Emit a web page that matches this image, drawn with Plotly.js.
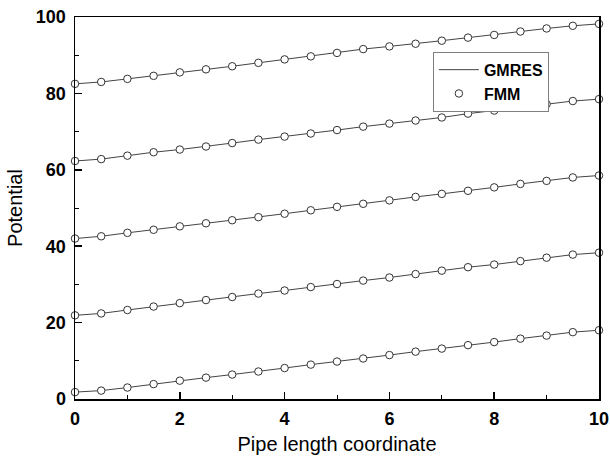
<!DOCTYPE html>
<html>
<head>
<meta charset="utf-8">
<script src="https://cdn.plot.ly/plotly-3.0.1.min.js"></script>
<style>html,body{margin:0;padding:0;background:#fff;}#plot{width:610px;height:464px;}</style>
</head>
<body>
<div id="plot"></div>
<script>
const xValues = [0,0.5,1,1.5,2,2.5,3,3.5,4,4.5,5,5.5,6,6.5,7,7.5,8,8.5,9,9.5,10];
const series1 = [1.8,2.2,3.0,3.9,4.8,5.6,6.4,7.2,8.1,9.0,9.8,10.6,11.5,12.4,13.2,14.1,14.9,15.8,16.6,17.5,18.0];
const series2 = [21.9,22.4,23.3,24.2,25.1,25.9,26.7,27.6,28.4,29.3,30.1,31.0,31.8,32.7,33.6,34.5,35.2,36.1,37.0,37.8,38.3];
const series3 = [42.0,42.6,43.5,44.3,45.2,46.0,46.8,47.6,48.5,49.4,50.3,51.1,52.0,52.9,53.7,54.5,55.4,56.3,57.1,58.0,58.5];
const series4 = [62.3,62.8,63.7,64.6,65.3,66.1,67.0,67.9,68.7,69.5,70.4,71.3,72.1,72.9,73.7,74.7,75.5,76.3,77.2,78.0,78.5];
const series5 = [82.5,83.0,83.8,84.6,85.5,86.3,87.1,88.0,88.9,89.7,90.6,91.6,92.3,93.0,93.8,94.6,95.3,96.2,97.0,97.7,98.2];
const allSeries = [series1, series2, series3, series4, series5];
const lineName = "GMRES";
const markerName = "FMM";
const xTickVals = [0,2,4,6,8,10];
const yTickVals = [0,20,40,60,80,100];

const traces = [];
allSeries.forEach((s, i) => {
  traces.push({
    x: xValues, y: s, type: 'scatter', mode: 'lines',
    name: lineName, legendgroup: 'g', showlegend: i === 0,
    line: {color: '#444', width: 1}, cliponaxis: false
  });
});
allSeries.forEach((s, i) => {
  traces.push({
    x: xValues, y: s, type: 'scatter', mode: 'markers',
    name: markerName, legendgroup: 'm', showlegend: i === 0,
    marker: {symbol: 'circle', size: 7.5, color: '#fff', line: {color: '#333', width: 1}},
    cliponaxis: false
  });
});

const tickFont = {family: 'Liberation Sans, Arial, sans-serif', size: 18, color: '#000', weight: 'bold'};
const layout = {
  width: 610, height: 464,
  margin: {l: 75, r: 11, t: 17, b: 65},
  paper_bgcolor: '#fff', plot_bgcolor: '#fff',
  showlegend: true,
  legend: {
    x: 0.683, y: 0.909, xanchor: 'left', yanchor: 'top',
    bgcolor: '#fff', bordercolor: '#808080', borderwidth: 1,
    font: {family: 'Liberation Sans, Arial, sans-serif', size: 16, color: '#000', weight: 'bold'},
    itemwidth: 40, tracegroupgap: 0
  },
  xaxis: {
    range: [0, 10], tickvals: xTickVals, ticktext: xTickVals.map(String),
    ticks: 'inside', ticklen: 7, tickwidth: 1.5, tickcolor: '#000',
    minor: {dtick: 1, ticks: 'inside', ticklen: 4, tickwidth: 1, tickcolor: '#000'},
    showgrid: false, zeroline: false,
    showline: true, mirror: true, linecolor: '#000', linewidth: 1.5,
    tickfont: tickFont, ticklabelstandoff: 3,
    title: {text: 'Pipe length coordinate', font: {family: 'Liberation Sans, Arial, sans-serif', size: 20, color: '#000'}, standoff: 9}
  },
  yaxis: {
    range: [0, 100], tickvals: yTickVals, ticktext: yTickVals.map(String),
    ticks: 'inside', ticklen: 7, tickwidth: 1.5, tickcolor: '#000',
    minor: {dtick: 10, ticks: 'inside', ticklen: 4, tickwidth: 1, tickcolor: '#000'},
    showgrid: false, zeroline: false,
    showline: true, mirror: true, linecolor: '#000', linewidth: 1.5,
    tickfont: tickFont, ticklabelstandoff: 4,
    title: {text: 'Potential', font: {family: 'Liberation Sans, Arial, sans-serif', size: 20, color: '#000'}, standoff: 8}
  }
};
Plotly.newPlot('plot', traces, layout, {displayModeBar: false, staticPlot: true});
</script>
</body>
</html>
